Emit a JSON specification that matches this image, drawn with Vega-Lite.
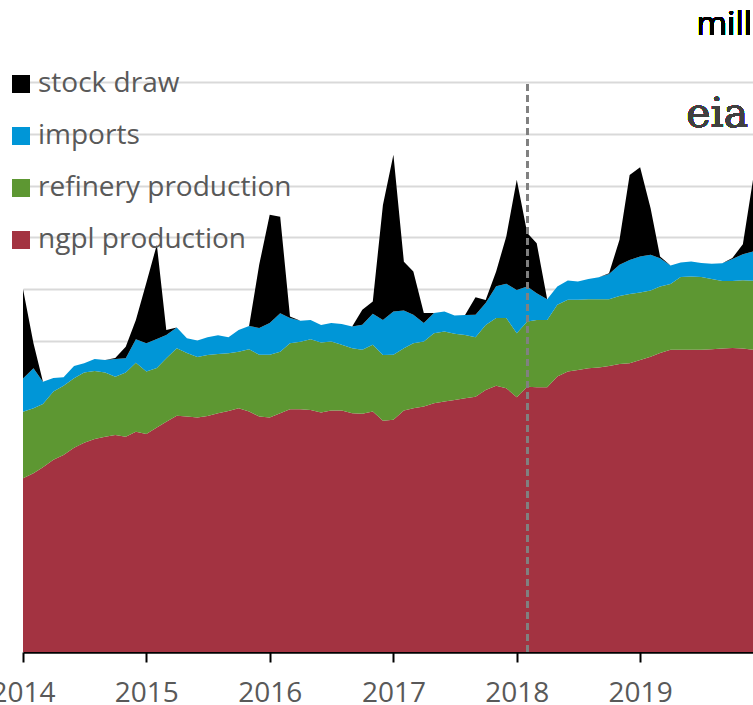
{
  "$schema": "https://vega.github.io/schema/vega-lite/v6.json",
  "width": 730,
  "height": 570,
  "autosize": {"type": "none"},
  "padding": {"left": 23, "top": 82, "right": 0, "bottom": 53},
  "background": "white",
  "config": {"view": {"stroke": null}, "font": "Open Sans"},
  "data": {
    "format": {"parse": {"date": "date:'%Y-%m'"}},
    "values": [
      {"date": "2014-01", "ngpl production": 0.838, "refinery production": 0.321, "imports": 0.161, "stock draw": 0.431},
      {"date": "2014-02", "ngpl production": 0.862, "refinery production": 0.314, "imports": 0.193, "stock draw": 0.121},
      {"date": "2014-03", "ngpl production": 0.891, "refinery production": 0.305, "imports": 0.108, "stock draw": 0},
      {"date": "2014-04", "ngpl production": 0.927, "refinery production": 0.330, "imports": 0.065, "stock draw": 0},
      {"date": "2014-05", "ngpl production": 0.951, "refinery production": 0.333, "imports": 0.042, "stock draw": 0},
      {"date": "2014-06", "ngpl production": 0.986, "refinery production": 0.335, "imports": 0.059, "stock draw": 0},
      {"date": "2014-07", "ngpl production": 1.010, "refinery production": 0.338, "imports": 0.045, "stock draw": 0},
      {"date": "2014-08", "ngpl production": 1.028, "refinery production": 0.328, "imports": 0.058, "stock draw": 0},
      {"date": "2014-09", "ngpl production": 1.039, "refinery production": 0.309, "imports": 0.061, "stock draw": 0},
      {"date": "2014-10", "ngpl production": 1.047, "refinery production": 0.281, "imports": 0.085, "stock draw": 0.005},
      {"date": "2014-11", "ngpl production": 1.039, "refinery production": 0.309, "imports": 0.069, "stock draw": 0.056},
      {"date": "2014-12", "ngpl production": 1.063, "refinery production": 0.333, "imports": 0.113, "stock draw": 0.093},
      {"date": "2015-01", "ngpl production": 1.052, "refinery production": 0.301, "imports": 0.137, "stock draw": 0.291},
      {"date": "2015-02", "ngpl production": 1.083, "refinery production": 0.287, "imports": 0.140, "stock draw": 0.455},
      {"date": "2015-03", "ngpl production": 1.111, "refinery production": 0.306, "imports": 0.112, "stock draw": 0.024},
      {"date": "2015-04", "ngpl production": 1.140, "refinery production": 0.325, "imports": 0.101, "stock draw": 0},
      {"date": "2015-05", "ngpl production": 1.136, "refinery production": 0.306, "imports": 0.072, "stock draw": 0},
      {"date": "2015-06", "ngpl production": 1.131, "refinery production": 0.292, "imports": 0.080, "stock draw": 0},
      {"date": "2015-07", "ngpl production": 1.139, "refinery production": 0.294, "imports": 0.085, "stock draw": 0},
      {"date": "2015-08", "ngpl production": 1.152, "refinery production": 0.286, "imports": 0.090, "stock draw": 0},
      {"date": "2015-09", "ngpl production": 1.163, "refinery production": 0.278, "imports": 0.077, "stock draw": 0},
      {"date": "2015-10", "ngpl production": 1.176, "refinery production": 0.273, "imports": 0.105, "stock draw": 0},
      {"date": "2015-11", "ngpl production": 1.160, "refinery production": 0.301, "imports": 0.112, "stock draw": 0},
      {"date": "2015-12", "ngpl production": 1.136, "refinery production": 0.298, "imports": 0.129, "stock draw": 0.306},
      {"date": "2016-01", "ngpl production": 1.131, "refinery production": 0.303, "imports": 0.153, "stock draw": 0.523},
      {"date": "2016-02", "ngpl production": 1.152, "refinery production": 0.297, "imports": 0.185, "stock draw": 0.466},
      {"date": "2016-03", "ngpl production": 1.171, "refinery production": 0.319, "imports": 0.121, "stock draw": 0.008},
      {"date": "2016-04", "ngpl production": 1.171, "refinery production": 0.326, "imports": 0.101, "stock draw": 0},
      {"date": "2016-05", "ngpl production": 1.168, "refinery production": 0.341, "imports": 0.093, "stock draw": 0},
      {"date": "2016-06", "ngpl production": 1.155, "refinery production": 0.338, "imports": 0.085, "stock draw": 0},
      {"date": "2016-07", "ngpl production": 1.165, "refinery production": 0.333, "imports": 0.089, "stock draw": 0},
      {"date": "2016-08", "ngpl production": 1.165, "refinery production": 0.317, "imports": 0.101, "stock draw": 0},
      {"date": "2016-09", "ngpl production": 1.152, "refinery production": 0.314, "imports": 0.104, "stock draw": 0},
      {"date": "2016-10", "ngpl production": 1.149, "refinery production": 0.309, "imports": 0.121, "stock draw": 0.072},
      {"date": "2016-11", "ngpl production": 1.160, "refinery production": 0.322, "imports": 0.150, "stock draw": 0.059},
      {"date": "2016-12", "ngpl production": 1.116, "refinery production": 0.317, "imports": 0.169, "stock draw": 0.555},
      {"date": "2017-01", "ngpl production": 1.120, "refinery production": 0.314, "imports": 0.209, "stock draw": 0.756},
      {"date": "2017-02", "ngpl production": 1.165, "refinery production": 0.301, "imports": 0.181, "stock draw": 0.236},
      {"date": "2017-03", "ngpl production": 1.176, "refinery production": 0.314, "imports": 0.137, "stock draw": 0.209},
      {"date": "2017-04", "ngpl production": 1.184, "refinery production": 0.314, "imports": 0.089, "stock draw": 0.048},
      {"date": "2017-05", "ngpl production": 1.200, "refinery production": 0.338, "imports": 0.097, "stock draw": 0},
      {"date": "2017-06", "ngpl production": 1.208, "refinery production": 0.338, "imports": 0.097, "stock draw": 0},
      {"date": "2017-07", "ngpl production": 1.216, "refinery production": 0.319, "imports": 0.088, "stock draw": 0},
      {"date": "2017-08", "ngpl production": 1.224, "refinery production": 0.305, "imports": 0.097, "stock draw": 0},
      {"date": "2017-09", "ngpl production": 1.232, "refinery production": 0.287, "imports": 0.108, "stock draw": 0.085},
      {"date": "2017-10", "ngpl production": 1.264, "refinery production": 0.314, "imports": 0.106, "stock draw": 0.014},
      {"date": "2017-11", "ngpl production": 1.284, "refinery production": 0.327, "imports": 0.153, "stock draw": 0.072},
      {"date": "2017-12", "ngpl production": 1.273, "refinery production": 0.338, "imports": 0.166, "stock draw": 0.228},
      {"date": "2018-01", "ngpl production": 1.229, "refinery production": 0.309, "imports": 0.209, "stock draw": 0.531},
      {"date": "2018-02", "ngpl production": 1.280, "refinery production": 0.314, "imports": 0.169, "stock draw": 0.258},
      {"date": "2018-03", "ngpl production": 1.277, "refinery production": 0.325, "imports": 0.129, "stock draw": 0.241},
      {"date": "2018-04", "ngpl production": 1.277, "refinery production": 0.325, "imports": 0.100, "stock draw": 0},
      {"date": "2018-05", "ngpl production": 1.329, "refinery production": 0.346, "imports": 0.088, "stock draw": 0},
      {"date": "2018-06", "ngpl production": 1.353, "refinery production": 0.346, "imports": 0.093, "stock draw": 0},
      {"date": "2018-07", "ngpl production": 1.361, "refinery production": 0.338, "imports": 0.088, "stock draw": 0},
      {"date": "2018-08", "ngpl production": 1.369, "refinery production": 0.333, "imports": 0.097, "stock draw": 0},
      {"date": "2018-09", "ngpl production": 1.372, "refinery production": 0.330, "imports": 0.106, "stock draw": 0},
      {"date": "2018-10", "ngpl production": 1.380, "refinery production": 0.322, "imports": 0.122, "stock draw": 0.003},
      {"date": "2018-11", "ngpl production": 1.390, "refinery production": 0.328, "imports": 0.150, "stock draw": 0.121},
      {"date": "2018-12", "ngpl production": 1.393, "refinery production": 0.334, "imports": 0.164, "stock draw": 0.410},
      {"date": "2019-01", "ngpl production": 1.409, "refinery production": 0.325, "imports": 0.174, "stock draw": 0.431},
      {"date": "2019-02", "ngpl production": 1.425, "refinery production": 0.319, "imports": 0.172, "stock draw": 0.225},
      {"date": "2019-03", "ngpl production": 1.442, "refinery production": 0.321, "imports": 0.137, "stock draw": 0.008},
      {"date": "2019-04", "ngpl production": 1.458, "refinery production": 0.317, "imports": 0.090, "stock draw": 0},
      {"date": "2019-05", "ngpl production": 1.458, "refinery production": 0.351, "imports": 0.070, "stock draw": 0},
      {"date": "2019-06", "ngpl production": 1.458, "refinery production": 0.354, "imports": 0.072, "stock draw": 0},
      {"date": "2019-07", "ngpl production": 1.458, "refinery production": 0.351, "imports": 0.068, "stock draw": 0},
      {"date": "2019-08", "ngpl production": 1.461, "refinery production": 0.338, "imports": 0.074, "stock draw": 0},
      {"date": "2019-09", "ngpl production": 1.464, "refinery production": 0.326, "imports": 0.085, "stock draw": 0},
      {"date": "2019-10", "ngpl production": 1.467, "refinery production": 0.323, "imports": 0.106, "stock draw": 0.005},
      {"date": "2019-11", "ngpl production": 1.464, "refinery production": 0.330, "imports": 0.125, "stock draw": 0.048},
      {"date": "2019-12", "ngpl production": 1.458, "refinery production": 0.333, "imports": 0.141, "stock draw": 0.346}
    ]
  },
  "layer": [
    {
      "transform": [
        {"fold": ["ngpl production", "refinery production", "imports", "stock draw"], "as": ["series", "value"]},
        {"calculate": "indexof(['ngpl production','refinery production','imports','stock draw'], datum.series)", "as": "stackOrder"}
      ],
      "mark": {"type": "area", "interpolate": "linear", "opacity": 1, "strokeWidth": 0},
      "encoding": {
        "x": {
          "field": "date", "type": "temporal",
          "scale": {"domain": [{"year": 2014, "month": 1, "date": 1}, {"year": 2019, "month": 12, "date": 1}]},
          "axis": {
            "title": null,
            "values": [
              {"year": 2014, "month": 1, "date": 1}, {"year": 2015, "month": 1, "date": 1},
              {"year": 2016, "month": 1, "date": 1}, {"year": 2017, "month": 1, "date": 1},
              {"year": 2018, "month": 1, "date": 1}, {"year": 2019, "month": 1, "date": 1}
            ],
            "format": "%Y",
            "labelFont": "Open Sans",
            "labelFontSize": 28,
            "labelColor": "#595959",
            "labelPadding": 17,
            "labelOverlap": false,
            "labelFlush": false,
            "domainColor": "#000000",
            "domainWidth": 2.5,
            "tickColor": "#000000",
            "tickWidth": 2,
            "tickSize": 10,
            "grid": false
          }
        },
        "y": {
          "field": "value", "type": "quantitative", "stack": "zero",
          "scale": {"domain": [0, 2.75], "nice": false, "zero": true},
          "axis": {
            "title": null, "labels": false, "ticks": false, "domain": false,
            "grid": true, "gridColor": "#D9D9D9", "gridWidth": 2,
            "values": [0.25, 0.5, 0.75, 1, 1.25, 1.5, 1.75, 2, 2.25, 2.5, 2.75]
          }
        },
        "color": {
          "field": "series", "type": "nominal",
          "scale": {
            "domain": ["stock draw", "imports", "refinery production", "ngpl production"],
            "range": ["#000000", "#0096D7", "#5D9732", "#A33341"]
          },
          "legend": {
            "title": null,
            "orient": "none",
            "legendX": -16,
            "legendY": -12,
            "direction": "vertical",
            "symbolType": "square",
            "symbolSize": 324,
            "symbolStrokeWidth": 0,
            "symbolOpacity": 1,
            "labelFont": "Open Sans",
            "labelFontSize": 28,
            "labelColor": "#595959",
            "labelOffset": 3,
            "rowPadding": 24,
            "padding": 0,
            "labelLimit": 400
          }
        },
        "order": {"field": "stackOrder", "type": "quantitative", "sort": "ascending"}
      }
    },
    {
      "mark": {"type": "rule", "color": "#808080", "strokeWidth": 2, "strokeDash": [7, 4]},
      "encoding": {
        "x": {"datum": {"year": 2018, "month": 2, "date": 1}, "type": "temporal"},
        "y": {"datum": 0, "type": "quantitative"},
        "y2": {"datum": 2.75}
      }
    },
    {
      "mark": {"type": "text", "text": "million barrels per day", "align": "left", "baseline": "alphabetic", "font": "Open Sans", "fontWeight": "normal", "fontSize": 33, "color": "#000000"},
      "encoding": {
        "x": {"datum": {"year": 2019, "month": 6, "date": 17}, "type": "temporal"},
        "y": {"datum": 2.975, "type": "quantitative"}
      }
    },
    {
      "mark": {"type": "text", "text": "eia", "align": "center", "baseline": "alphabetic", "font": "DejaVu Serif", "fontSize": 41, "color": "#404040"},
      "encoding": {
        "x": {"datum": {"year": 2019, "month": 8, "date": 17}, "type": "temporal"},
        "y": {"datum": 2.535, "type": "quantitative"}
      }
    }
  ]
}
